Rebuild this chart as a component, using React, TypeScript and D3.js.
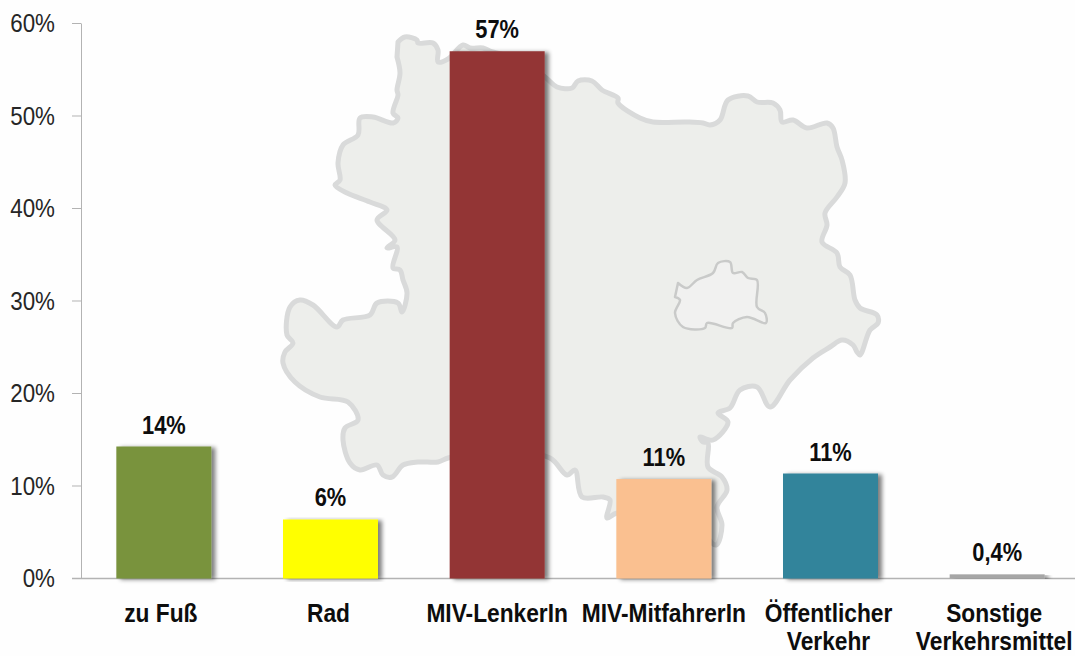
import React from "react";
import * as d3 from "d3";

const categories = ["zu Fuß", "Rad", "MIV-LenkerIn", "MIV-MitfahrerIn", "Öffentlicher|Verkehr", "Sonstige|Verkehrsmittel"];
const values = [14.27, 6.38, 57.0, 10.75, 11.35, 0.45];
const valueLabels = ["14%", "6%", "57%", "11%", "11%", "0,4%"];
const colors = ["#79933c", "#ffff00", "#933634", "#fac090", "#31849b", "#a6a6a6"];
const yTicks = [0, 10, 20, 30, 40, 50, 60];

// Decorative backdrop (map of the region), traced in picture coordinates
const regionOutline: [number, number][] = [
  [398,42],[405,37],[417,40],[418,43],[433,43],[438,50],[438,62],[448,59],[463,45],[470,48],[483,48],[490,51],[520,60],
  [545,77],[557,87],[572,88],[578,81],[592,81],[602,90],[618,98],[618,103],[640,118],[653,122],[687,122],[703,123],[710,125],
  [720,120],[728,100],[748,96],[757,102],[773,103],[780,110],[782,122],[793,120],[807,128],[827,123],[833,128],[837,147],
  [842,160],[845,183],[837,197],[825,213],[827,225],[822,242],[837,253],[840,267],[850,275],[855,300],[860,308],[877,315],
  [878,323],[870,330],[860,355],[857,352],[853,345],[842,340],[830,347],[813,358],[790,380],[770,407],[757,387],[740,390],[730,408],
  [718,413],[728,422],[713,440],[700,437],[703,442],[708,443],[708,467],[722,477],[727,490],[717,507],[722,525],[716,545],
  [700,530],[680,520],[617,513],[607,518],[610,500],[603,497],[582,497],[575,470],[567,475],[550,458],[500,450],[448,458],
  [438,462],[418,462],[403,465],[392,477],[383,475],[377,465],[360,470],[350,463],[343,440],[345,428],[358,420],[348,402],
  [320,397],[295,382],[283,363],[285,352],[293,343],[287,335],[290,307],[300,300],[313,305],[337,327],[343,320],[370,315],
  [377,303],[398,303],[402,312],[407,293],[403,280],[400,270],[393,268],[397,247],[387,248],[395,240],[377,220],[387,210],
  [370,202],[347,193],[335,185],[340,180],[338,163],[343,145],[358,135],[360,118],[373,117],[393,123],[398,118],[393,113],
  [398,95],[397,90],[400,73],[397,57],
];
const viennaOutline: [number, number][] = [
  [678,283],[687,288],[697,280],[713,273],[718,263],[730,262],[733,273],[742,272],[748,278],[757,280],[757,307],[765,313],
  [766,323],[747,317],[733,323],[732,328],[707,323],[705,328],[683,327],[675,313],[680,300],[675,297],
];

const width = 1075;
const height = 656;
const labelShift = [-3, -2, 0, 0, -2, -3];
const x = d3.scaleBand<number>().domain(d3.range(categories.length)).range([80.5, 1080.5]).paddingInner(0.43).paddingOuter(0.215);
const y = d3.scaleLinear().domain([0, 60]).range([578.5, 23.5]);
const line = d3.line().curve(d3.curveCatmullRom.alpha(0.5));
const sans = "'Liberation Sans', Arial, sans-serif";

function Narrow({ x: tx, y: ty, sx, anchor, size, bold, fill, children }: any) {
  return (
    <text transform={`translate(${tx},${ty}) scale(${sx},1)`} textAnchor={anchor} fontSize={size} fontWeight={bold ? "bold" : "normal"} fill={fill}>
      {children}
    </text>
  );
}

export default function App() {
  return (
    <svg width={width} height={height} style={{ position: "absolute", left: 0, top: 0, background: "#fefefe" }} fontFamily={sans}>
      <defs>
        <filter id="sh" x="-10%" y="-5%" width="125%" height="110%">
          <feGaussianBlur in="SourceAlpha" stdDeviation="2" />
          <feOffset dx="4" dy="1" />
          <feComponentTransfer><feFuncA type="linear" slope="0.5" /></feComponentTransfer>
          <feMerge><feMergeNode /><feMergeNode in="SourceGraphic" /></feMerge>
        </filter>
      </defs>
      <path d={line(regionOutline)! + "Z"} fill="#edeeeb" stroke="#d9dada" strokeWidth={5} strokeLinejoin="round" />
      <path d={line(viennaOutline)! + "Z"} fill="#f1f1f0" stroke="#c9cac9" strokeWidth={2.5} strokeLinejoin="round" />
      <line x1={81.5} x2={81.5} y1={y(60)} y2={y(0)} stroke="#b3b3b3" strokeWidth={1} />
      <line x1={72} x2={width} y1={y(0)} y2={y(0)} stroke="#b3b3b3" strokeWidth={1.5} />
      {yTicks.map((t) => (
        <g key={t}>
          <line x1={72} x2={81} y1={y(t)} y2={y(t)} stroke="#b3b3b3" strokeWidth={1} />
          <Narrow x={55} y={y(t) + 8.5} sx={0.86} anchor="end" size={26} fill="#262626">{t}%</Narrow>
        </g>
      ))}
      {values.map((v, i) => {
        const cx = x(i)! + x.bandwidth() / 2;
        return (
          <g key={i}>
            <rect x={x(i)} y={y(v)} width={x.bandwidth()} height={y(0) - y(v)} fill={colors[i]} filter="url(#sh)" />
            <Narrow x={cx} y={y(v) - 13} sx={0.84} anchor="middle" size={26} bold fill="#0d0d0d">{valueLabels[i]}</Narrow>
            {categories[i].split("|").map((l, j) => (
              <Narrow key={j} x={cx + labelShift[i]} y={622 + j * 28.4} sx={0.875} anchor="middle" size={26} bold fill="#0d0d0d">{l}</Narrow>
            ))}
          </g>
        );
      })}
    </svg>
  );
}
